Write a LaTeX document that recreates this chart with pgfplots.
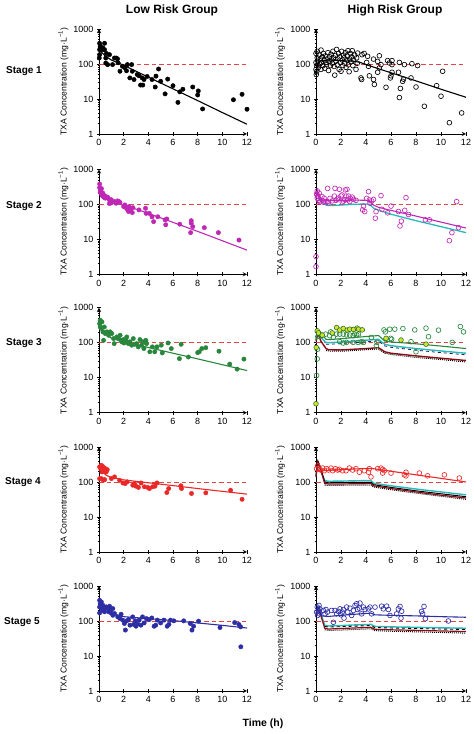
\documentclass[border=0pt]{standalone}
\usepackage{fontspec}
\setmainfont{Liberation Sans}
\usepackage{pgfplots}
\pgfplotsset{compat=1.18}

\definecolor{refred}{RGB}{225,70,70}
\definecolor{mag}{RGB}{190,40,180}
\definecolor{grn}{RGB}{40,135,60}
\definecolor{rd}{RGB}{235,40,40}
\definecolor{blu}{RGB}{45,45,165}
\definecolor{cyn}{RGB}{40,185,185}
\definecolor{dred}{RGB}{140,10,20}
\definecolor{ylw}{RGB}{205,230,40}

\pgfplotsset{
  txaaxis/.style={
    scale only axis, width=148pt, height=105pt,
    xmin=0, xmax=12, ymin=1, ymax=1000,
    axis lines=left, axis line style={line width=0.9pt},
    xtick={0,2,4,6,8,10,12}, ytick={1,10,100,1000},
    xticklabels={0,2,4,6,8,10,12}, yticklabels={1,10,100,1000},
    tick align=center, major tick length=4pt, minor tick length=2.4pt,
    tick style={black, line width=0.6pt},
    tick label style={font=\fontsize{9}{10}\selectfont},
    ylabel={TXA Concentration (mg·L\textsuperscript{−1})},
    ylabel style={at={(axis description cs:-0.24,0.5)}, anchor=center,
                  font=\fontsize{8.6}{9}\selectfont},
    clip=false,
  },
  fdotm/.style={only marks, mark=*, mark size=2.2pt, mark options={draw=#1, fill=#1}},
  odotm/.style={only marks, mark=o, mark size=2.4pt, mark options={draw=#1, line width=0.65pt}},
  fitline/.style={color=#1, line width=1.1pt, no marks},
}
\newcommand{\refline}{\addplot[color=refred, line width=0.9pt, dash pattern=on 4.5pt off 3pt] coordinates {(0,100)(12,100)};}

\begin{document}
\begin{tikzpicture}
\path[use as bounding box] (0,0) rectangle (474pt,734pt);

\node[font=\bfseries\fontsize{12}{14}\selectfont] at (172pt,724pt) {Low Risk Group};
\node[font=\bfseries\fontsize{12}{14}\selectfont] at (395pt,724pt) {High Risk Group};
\node[font=\bfseries\fontsize{10}{12}\selectfont] at (24pt,663pt) {Stage 1};
\node[font=\bfseries\fontsize{10}{12}\selectfont] at (24pt,528pt) {Stage 2};
\node[font=\bfseries\fontsize{10}{12}\selectfont] at (24pt,391pt) {Stage 3};
\node[font=\bfseries\fontsize{10}{12}\selectfont] at (23pt,252pt) {Stage 4};
\node[font=\bfseries\fontsize{10}{12}\selectfont] at (22pt,112pt) {Stage 5};
\node[font=\bfseries\fontsize{10.5}{12}\selectfont] at (263pt,10pt) {Time (h)};

% ---------------- Stage 1 ----------------
\begin{semilogyaxis}[txaaxis, at={(99pt,600pt)}, anchor=south west]
\refline
\addplot[fdotm=black] coordinates {
(0.05,390)(0.05,257)(0.1,320)(0.05,185)(0.02,148)(0.3,290)(0.3,257)(0.45,257)(0.45,390)
(0.6,200)(0.55,148)(0.85,185)(0.55,106)(0.7,96)(1.1,96)(1.25,148)(1.4,148)(1.5,140)
(1.55,108)(1.7,62)(1.9,86)(2.1,78)(2.23,64)(2.3,96)(2.5,40)(2.65,96)(2.7,62)(2.84,36)
(3.1,50)(3.25,46)(3.37,25)(3.55,25)(3.5,40)(3.65,36)(3.9,44)(4.3,36)(4.56,22)(4.62,45)
(4.83,72)(5.0,32)(5.36,14)(5.57,37)(6.0,24)(6.4,8)(6.55,16)(6.8,19)(7.6,22)(8.0,13)
(8.05,17)(8.4,5.2)(10.9,9.5)(11.6,13.6)(12.0,5.1)
};
\addplot[fitline=black] coordinates {(0,260)(0.5,170)(1,130)(2,92)(4,42)(6,19.5)(8,9)(10,4.1)(12,1.9)};
\end{semilogyaxis}

\begin{semilogyaxis}[txaaxis, at={(316pt,600pt)}, anchor=south west, width=150pt]
\refline
\addplot[odotm=black] coordinates {
(0,70)(0,110)(0,200)(0.02,50)(0.05,60)(0.05,90)(0.1,150)(0.1,230)(0.15,120)(0.2,80)
(0.25,180)(0.3,100)(0.35,140)(0.4,250)(0.4,70)(0.45,110)(0.5,160)(0.55,90)(0.6,200)
(0.65,130)(0.7,75)(0.75,170)(0.8,110)(0.85,95)(0.9,140)(0.95,210)(1.0,65)(1.05,120)
(1.1,160)(1.15,90)(1.2,190)(1.25,130)(1.3,105)(1.35,230)(1.4,150)(1.45,85)(1.5,48)
(1.55,175)(1.6,120)(1.65,260)(1.7,95)(1.75,140)(1.8,200)(1.85,70)(1.9,160)(1.95,110)
(2.0,62)(2.05,230)(2.1,130)(2.15,90)(2.2,180)(2.25,150)(2.3,105)(2.35,210)(2.4,80)
(2.45,130)(2.5,170)(2.55,240)(2.6,95)(2.65,60)(2.7,140)(2.75,200)(2.8,115)(2.85,160)
(2.9,240)(2.95,90)(3.0,130)(3.1,180)(3.2,70)(3.25,150)(3.3,105)
(3.33,205)(3.68,185)(3.85,200)(4.13,166)(4.05,111)(4.2,86)(3.6,40)(3.65,36)(4.27,46)
(4.6,36)(4.67,26)(4.6,138)(4.93,119)(5.07,172)(5.07,77)(4.93,58)(5.2,96)(5.6,21.5)
(5.73,125)(5.87,107)(6.08,125)(6.08,96)(6.0,46)(6.08,58)(5.95,40)(6.6,58)(6.67,111)
(6.67,11)(6.75,20)(6.93,32)(7.0,37)(7.07,96)(7.6,40)(7.67,102)(8.0,22)(8.13,90)
(8.67,6.2)(9.65,24)(10.0,12)(10.13,62)(10.67,2.1)(11.65,4.0)
};
\addplot[fitline=black] coordinates {(0,55)(0.2,120)(1,130)(2,125)(3,120)(3.5,112)(4,96)(6,56)(8,33)(10,19)(12,11.2)};
\end{semilogyaxis}

% ---------------- Stage 2 ----------------
\begin{semilogyaxis}[txaaxis, at={(99pt,459.7pt)}, anchor=south west]
\refline
\addplot[fdotm=mag] coordinates {
(0.05,380)(0.05,300)(0.1,260)(0.1,220)(0.15,240)(0.2,200)(0.2,280)(0.25,180)(0.3,210)
(0.3,170)(0.35,190)(0.4,160)(0.45,175)(0.5,150)(0.55,165)(0.6,155)(0.7,160)(0.8,140)
(0.9,120)(1.0,135)(1.0,110)(0.85,105)(1.25,119)(1.38,107)(1.64,119)(1.7,112)(1.5,125)
(2.0,86)(2.1,96)(2.23,77)(2.33,69)(2.44,86)(2.57,72)(2.7,58)(2.4,62)(2.75,80)(3.24,69)
(3.77,77)(3.82,55)(4.08,55)(4.3,44)(4.43,32)(4.77,44)(5.36,36)(5.41,26)(5.5,38)(6.55,27)
(7.48,34)(7.48,29)(7.43,15.5)(7.6,23)(8.54,21.5)(9.68,15.5)(11.35,9.5)
};
\addplot[fitline=mag] coordinates {(0,420)(0.1,300)(0.25,220)(0.5,165)(1,128)(1.5,108)(2,92)(3,73)(4,55)(6,30.5)(8,16.8)(10,9.1)(12,4.9)};
\end{semilogyaxis}

\begin{semilogyaxis}[txaaxis, at={(316pt,459.7pt)}, anchor=south west, width=150pt]
\refline
\addplot[odotm=mag] coordinates {
(0,3.2)(0,1.66)(0.05,200)(0.08,185)(0.1,240)(0.1,150)(0.15,170)(0.2,130)(0.25,210)
(0.3,115)(0.35,119)(0.48,166)(0.65,150)(0.5,130)(0.6,115)(0.8,120)(0.93,285)(0.93,119)
(1.0,110)(1.12,148)(1.3,125)(1.47,172)(1.52,285)(1.6,130)(1.7,140)(1.8,150)(1.87,268)
(2.0,172)(2.08,185)(2.1,115)(2.2,124)(2.3,135)(2.35,257)(2.4,172)(2.48,268)(2.53,133)
(2.6,172)(2.7,120)(2.75,148)(2.9,160)(3.0,138)(3.2,130)
(3.73,69)(3.8,89)(3.9,62)(4.05,148)(4.2,230)(4.27,133)(4.32,107)(4.45,124)(4.6,138)
(4.75,40)(4.8,62)(5.2,177)(5.28,72)(5.73,57)(6.0,89)(6.6,62)(6.72,24)(6.83,33)(7.1,67)
(7.2,155)(7.4,51)(8.75,36)(9.07,36)(10.67,9.1)(10.87,15.5)(11.25,119)(11.4,21.5)
};
\addplot[fitline=cyn, line width=1.3pt] coordinates {(0,150)(0.1,230)(0.3,130)(0.8,95)(1,92)(2,95)(3,100)(4,102)(4.3,100)(4.6,78)(5,68)(6,52)(8,34)(10,23)(12,15.5)};
\addplot[fitline=mag] coordinates {(0,150)(0.1,250)(0.2,180)(0.5,135)(1,128)(2,128)(3,132)(4,130)(4.3,125)(4.6,95)(5,82)(6,67)(8,46)(10,31)(12,21)};
\end{semilogyaxis}

% ---------------- Stage 3 ----------------
\begin{semilogyaxis}[txaaxis, at={(99pt,321.3pt)}, anchor=south west]
\refline
\addplot[fdotm=grn] coordinates {
(0.1,437)(0.05,347)(0.1,281)(0.24,393)(0.2,254)(0.32,204)(0.37,117)(0.43,281)(0.5,183)
(0.64,204)(0.78,163)(0.9,204)(1.04,183)(1.18,131)(1.23,94)(1.44,146)(1.58,131)(1.71,163)
(1.77,117)(1.84,106)(1.98,123)(2.03,98)(2.19,117)(2.25,146)(2.38,94)(2.51,106)(2.65,85)
(2.78,131)(2.91,90)(3.05,94)(3.18,76)(3.32,123)(3.45,85)(3.58,106)(3.64,68)(3.8,117)
(3.85,94)(4.12,55)(4.33,76)(4.52,55)(4.7,76)(5.13,51)(5.05,85)(5.6,98)(5.86,68)(6.52,35)
(6.66,90)(7.25,39)(8.0,52)(8.13,55)(8.34,68)(8.66,72)(9.73,57)(10.6,24.5)(11.2,17.6)
(11.75,34)
};
\addplot[fitline=grn] coordinates {(0,350)(0.2,250)(0.5,180)(1,135)(2,105)(3,88)(4,73)(6,50)(8,34.5)(10,23.5)(12,16)};
\end{semilogyaxis}

\begin{semilogyaxis}[txaaxis, at={(316pt,321.3pt)}, anchor=south west, width=150pt]
\refline
\addplot[fitline=cyn, line width=1.4pt] coordinates {(0,120)(0.15,200)(0.4,140)(0.8,100)(1,100)(2,104)(3,110)(4,118)(5,125)(5.5,90)(6,82)(8,68)(10,58)(12,50)};
\addplot[fitline=blu!60!black, line width=0.8pt, dashed] coordinates {(0.8,90)(1,90)(2,94)(3,99)(4,106)(5,112)(5.5,81)(6,74)(8,61)(10,52)(12,45)};
\addplot[fitline=dred, line width=1.4pt] coordinates {(0,110)(0.15,180)(0.4,110)(0.8,68)(1,63)(2,62)(3,65)(4,68)(5,72)(5.5,55)(6,50)(8,42)(10,36)(12,31)};
\addplot[fitline=black, line width=1pt, densely dotted] coordinates {(0.8,60)(1,58)(2,57)(3,60)(4,63)(5,66)(5.5,50)(6,46)(8,38)(10,33)(12,28)};
\addplot[fitline=grn] coordinates {(0,120)(0.15,230)(0.4,180)(0.8,125)(1,122)(2,130)(3,140)(4,150)(5,160)(5.5,112)(6,105)(8,93)(10,80)(12,68)};
\addplot[odotm=grn] coordinates {
(0.05,11.6)(0.1,34.5)(0.12,65)(0.15,150)(0.2,190)(0.3,170)(0.45,164)(0.77,176)(1.1,158)
(1.17,204)(1.38,141)(1.65,176)(1.9,176)(2.18,176)(2.44,168)(2.7,165)(2.97,158)(3.1,176)
(3.25,168)(3.4,176)(2.97,102)(3.37,102)(3.64,107)(3.8,102)(1.9,107)(2.18,98)(2.44,102)
(4.43,141)(4.83,82)(4.88,102)(5.44,232)(5.55,204)(5.9,243)(6.3,243)(6.95,254)(7.9,232)
(8.8,260)(9.0,148)(9.8,228)(11.55,289)(11.8,204)(10.9,102)(8.0,55)(7.6,107)(5.97,133)
(6.05,125)
};
\addplot[only marks, mark=*, mark size=2.4pt, mark options={fill=ylw, draw=grn!70!black, line width=0.5pt}] coordinates {
(0.0,1.8)(0.02,73)(0.1,218)(0.2,190)(0.5,165)(1.3,190)(1.65,270)(1.9,230)(2.18,254)
(2.5,230)(2.7,243)(3.0,240)(3.3,260)(3.4,243)(3.7,232)(5.6,133)(6.8,119)(8.8,91)
};
\end{semilogyaxis}

% ---------------- Stage 4 ----------------
\begin{semilogyaxis}[txaaxis, at={(99pt,182pt)}, anchor=south west]
\refline
\addplot[fdotm=rd] coordinates {
(0.05,270)(0.13,242)(0.19,300)(0.27,283)(0.32,226)(0.24,194)(0.38,260)(0.46,218)
(0.52,240)(0.59,194)(0.67,226)(0.05,125)(0.19,125)(0.35,112)(0.46,117)(1.0,125)
(1.26,140)(1.67,112)(1.94,94)(2.12,90)(2.28,101)(2.74,81)(2.88,90)(3.0,76)(3.2,70)
(3.41,94)(3.68,73)(3.95,70)(4.09,65)(4.35,73)(4.54,76)(4.7,94)(5.5,50)(5.65,65)
(6.64,78)(6.69,65)(7.5,47)(8.66,49)(10.67,58)(11.6,32)
};
\addplot[fitline=rd] coordinates {(0,270)(0.3,190)(0.6,155)(1,135)(2,115)(4,95)(6,79)(8,65)(10,54)(12,45)};
\end{semilogyaxis}

\begin{semilogyaxis}[txaaxis, at={(316pt,182pt)}, anchor=south west, width=150pt]
\refline
\addplot[fitline=cyn, line width=1.4pt] coordinates {(0,150)(0.15,350)(0.3,250)(0.7,110)(1,105)(2,106)(3,108)(4.4,110)(4.6,92)(6,78)(8,63)(10,52)(12,43)};
\addplot[fitline=black, line width=1pt] coordinates {(0,150)(0.15,400)(0.3,300)(0.7,100)(1,95)(2,96)(3,97)(4.4,98)(4.6,84)(6,70)(8,56)(10,46)(12,38)};
\addplot[fitline=dred, line width=1.2pt] coordinates {(0,140)(0.15,370)(0.3,270)(0.7,90)(1,88)(2,88)(4.4,90)(4.6,78)(6,65)(8,52)(10,42)(12,35)};
\addplot[fitline=black, line width=1pt, densely dotted] coordinates {(0.7,82)(1,80)(4.4,82)(4.6,72)(6,60)(8,48)(10,39)(12,32)};
\addplot[fitline=rd] coordinates {(0,210)(1,215)(2,225)(3,235)(4.4,245)(6,203)(8,160)(10,127)(12,100)};
\addplot[odotm=rd] coordinates {
(0.05,240)(0.13,290)(0.27,230)(0.4,220)(0.53,250)(0.67,210)(0.85,240)(1.0,220)(1.2,250)
(1.33,210)(1.55,240)(1.73,220)(1.87,230)(2.13,210)(2.4,210)(2.67,250)(2.93,220)(3.2,240)
(3.47,190)(3.87,210)(4.2,190)(4.4,140)(4.27,240)(4.93,240)(5.2,250)(5.33,230)(5.47,210)
(5.33,180)(6.0,180)(7.07,160)(7.2,190)(7.2,150)(8.27,180)(8.93,150)(10.27,160)(11.47,130)
};
\end{semilogyaxis}

% ---------------- Stage 5 ----------------
\begin{semilogyaxis}[txaaxis, at={(99pt,43pt)}, anchor=south west]
\refline
\addplot[fdotm=blu] coordinates {
(0.05,390)(0.1,313)(0.19,350)(0.05,250)(0.19,250)(0.32,280)(0.27,204)(0.4,226)(0.05,170)
(0.45,183)(0.59,253)(0.72,226)(0.8,183)(0.9,204)(0.99,170)(0.86,263)(1.12,226)(1.26,163)
(1.12,146)(1.52,131)(1.7,117)(1.79,156)(1.92,106)(2.06,85)(2.14,55)(2.25,101)(2.4,110)
(2.51,76)(2.73,131)(2.81,80)(2.94,101)(3.0,71)(3.13,81)(3.26,106)(3.4,76)(3.53,131)
(3.66,88)(3.85,117)(4.06,110)(4.28,122)(4.47,71)(4.6,76)(4.73,106)(5.0,88)(5.27,106)
(5.53,71)(5.67,80)(5.8,106)(6.07,101)(6.87,101)(7.4,85)(7.54,55)(7.67,71)(8.07,99)
(9.81,65)(11.0,90)(11.34,80)(11.48,68)(11.5,18.3)
};
\addplot[fitline=blu] coordinates {(0,320)(0.2,250)(0.5,195)(1,160)(2,133)(4,117)(6,103)(8,88)(10,75)(12,63)};
\end{semilogyaxis}

\begin{semilogyaxis}[txaaxis, at={(316pt,43pt)}, anchor=south west, width=150pt]
\refline
\addplot[fitline=cyn, line width=1.4pt] coordinates {(0,150)(0.15,260)(0.3,200)(0.7,75)(1,72)(2,74)(3,77)(4.4,80)(4.7,70)(6,68)(8,66)(10,64)(12,62)};
\addplot[fitline=black, line width=0.9pt, dashed] coordinates {(0.7,70)(1,67)(2,69)(3,71)(4.4,74)(4.7,65)(6,63)(8,61)(10,59)(12,57)};
\addplot[fitline=dred, line width=1.2pt] coordinates {(0,140)(0.15,240)(0.3,180)(0.7,62)(1,59)(2,61)(3,63)(4.4,66)(4.7,58)(6,56)(8,54)(10,52)(12,50)};
\addplot[fitline=black, line width=1pt, densely dotted] coordinates {(0.7,56)(1,54)(2,55)(3,57)(4.4,60)(4.7,53)(6,51)(8,49)(10,47)(12,45)};
\addplot[fitline=blu] coordinates {(0,170)(0.15,240)(0.4,140)(1,135)(2,145)(3,155)(4.4,168)(4.7,150)(6,145)(8,140)(10,133)(12,128)};
\addplot[odotm=blu] coordinates {
(0.05,179)(0.1,250)(0.13,144)(0.2,200)(0.24,278)(0.27,160)(0.32,222)(0.59,200)(0.72,160)
(0.8,213)(0.91,179)(1.25,200)(1.39,92)(1.52,200)(1.65,160)(1.79,188)(1.92,222)(2.0,150)
(2.1,180)(2.19,213)(2.24,121)(2.45,250)(2.53,179)(2.72,232)(2.85,144)(2.99,200)(3.12,278)
(3.25,310)(3.33,213)(3.47,232)(3.52,325)(3.65,160)(3.79,250)(3.92,213)(4.19,222)(4.32,250)
(4.45,160)(4.72,250)(5.25,265)(5.39,222)(5.65,265)(5.79,213)(5.92,144)(6.45,160)(6.59,222)
(6.72,260)(6.8,121)(6.85,190)(8.45,188)(8.53,160)(8.64,260)(8.75,116)(10.59,100)
};
\end{semilogyaxis}
\end{tikzpicture}
\end{document}
